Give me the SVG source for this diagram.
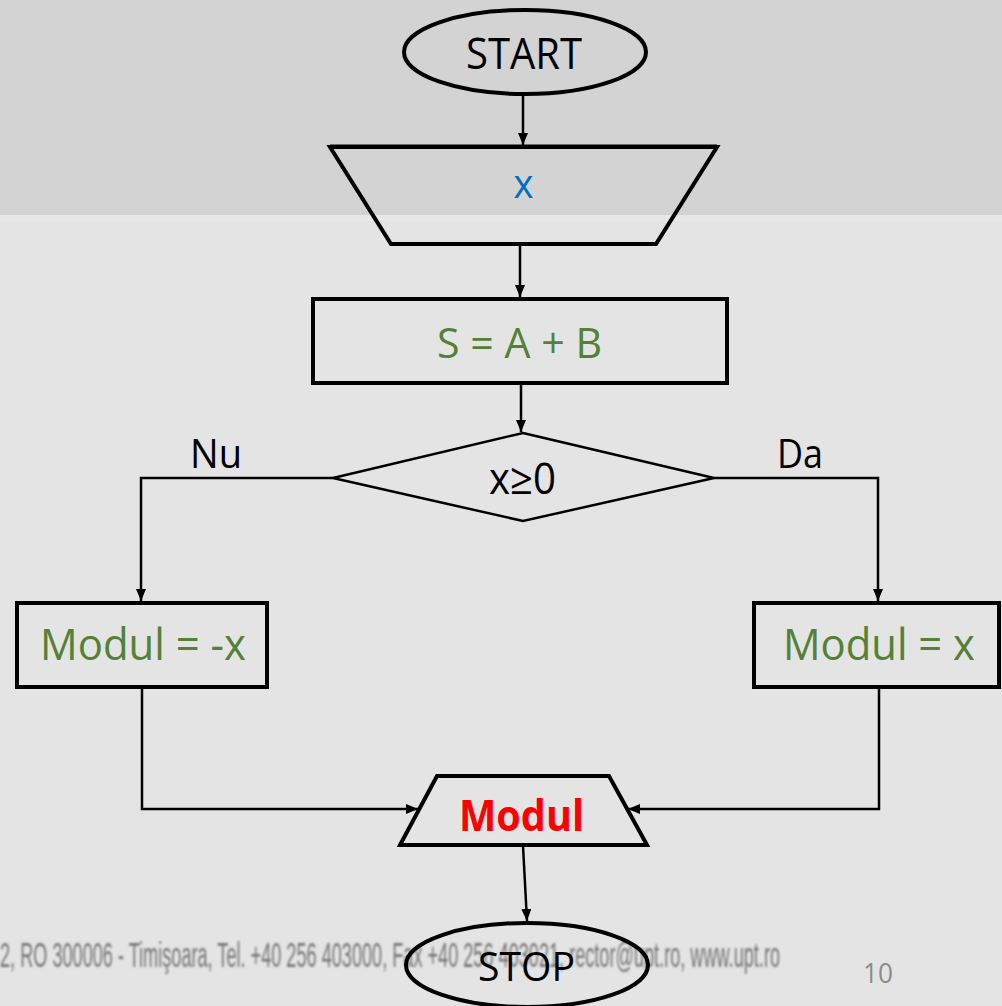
<svg xmlns="http://www.w3.org/2000/svg" width="1002" height="1006" viewBox="0 0 1002 1006">
  <style>
    .shape { fill: none; stroke: #000; stroke-width: 4; stroke-linejoin: miter; }
    .thin { stroke-width: 2.5; }
    .edge { fill: none; stroke: #000; stroke-width: 2.5; }
    .lbl { font-family: "Open Sans", "Noto Sans", sans-serif; text-anchor: middle; }
    .blk { fill: #000; }
    .grn { fill: #538135; }
    .blu { fill: #0070c0; }
    .red { fill: #ff0000; font-weight: bold; }
  </style>
  <defs>
    <marker id="arrow" viewBox="0 0 12 10" refX="12" refY="5" markerWidth="12" markerHeight="10" markerUnits="userSpaceOnUse" orient="auto">
      <path d="M0,0 L12,5 L0,10 Z" fill="#000"/>
    </marker>
    <filter id="soft" x="-5%" y="-50%" width="110%" height="200%">
      <feGaussianBlur stdDeviation="1.3 1.3"/>
    </filter>
  </defs>

  <!-- slide background -->
  <rect x="0" y="0" width="1002" height="215" fill="#d3d3d3"/>
  <rect x="0" y="215" width="1002" height="791" fill="#e4e4e4"/>
  <rect x="0" y="215" width="1002" height="6" fill="#e7e7e7"/>

  <!-- slide footer: condensed address line and page number -->
  <g filter="url(#soft)">
    <text transform="scale(0.5 1)" x="0" y="967" font-family="Liberation Sans, sans-serif" font-size="36" fill="#757575" textLength="1560" lengthAdjust="spacingAndGlyphs">2, RO 300006 - Timişoara, Tel. +40 256 403000, Fax +40 256 403021, rector@upt.ro, www.upt.ro</text>
  </g>
  <text x="878" y="983" class="lbl" font-size="28" fill="#8c8c8c" textLength="30" lengthAdjust="spacingAndGlyphs">10</text>

  <!-- connectors -->
  <g id="connectors">
    <line class="edge" x1="523" y1="96" x2="523" y2="145" marker-end="url(#arrow)"/>
    <line class="edge" x1="520" y1="245" x2="520" y2="297" marker-end="url(#arrow)"/>
    <line class="edge" x1="521" y1="384" x2="521" y2="432" marker-end="url(#arrow)"/>
    <polyline class="edge" points="333,478 141,478 141,601" marker-end="url(#arrow)"/>
    <polyline class="edge" points="714,478 878,478 878,601" marker-end="url(#arrow)"/>
    <polyline class="edge" points="142,688 142,809 418,809" marker-end="url(#arrow)"/>
    <polyline class="edge" points="879,688 879,809 628,809" marker-end="url(#arrow)"/>
    <line class="edge" x1="523" y1="846" x2="527" y2="921" marker-end="url(#arrow)"/>
    <text x="216" y="468" class="lbl blk" font-size="40" textLength="52" lengthAdjust="spacingAndGlyphs">Nu</text>
    <text x="800" y="468" class="lbl blk" font-size="40" textLength="46" lengthAdjust="spacingAndGlyphs">Da</text>
  </g>

  <g id="start">
    <ellipse class="shape" cx="525" cy="52" rx="121" ry="42"/>
    <text x="524" y="69" class="lbl blk" font-size="43" textLength="116" lengthAdjust="spacingAndGlyphs">START</text>
  </g>

  <g id="read-x">
    <polygon class="shape" points="330,147 717,147 656,244 391,244"/>
    <line x1="330" y1="146" x2="717" y2="146" stroke="#000" stroke-width="3"/>
    <text x="523.5" y="198" class="lbl blu" font-size="41" textLength="20" lengthAdjust="spacingAndGlyphs">x</text>
  </g>

  <g id="sum">
    <rect class="shape" x="313" y="299" width="414" height="84"/>
    <text x="519.5" y="358" class="lbl grn" font-size="42" textLength="165" lengthAdjust="spacingAndGlyphs">S = A + B</text>
  </g>

  <g id="test">
    <polygon class="shape thin" points="523,433 714,478 523,521 333,478"/>
    <text x="522.5" y="494" class="lbl blk" font-size="43" textLength="67" lengthAdjust="spacingAndGlyphs">x≥0</text>
  </g>

  <g id="neg">
    <rect class="shape" x="17" y="603" width="250" height="84"/>
    <text x="143" y="660" class="lbl grn" font-size="43" textLength="206" lengthAdjust="spacingAndGlyphs">Modul = -x</text>
  </g>

  <g id="pos">
    <rect class="shape" x="754" y="603" width="245" height="84"/>
    <text x="879" y="660" class="lbl grn" font-size="43" textLength="192" lengthAdjust="spacingAndGlyphs">Modul = x</text>
  </g>

  <g id="write-modul">
    <polygon class="shape" points="437,776 609,776 647,845 400,845"/>
    <text x="521.5" y="831" class="lbl red" font-size="43" textLength="125" lengthAdjust="spacingAndGlyphs">Modul</text>
  </g>

  <g id="stop">
    <ellipse class="shape" cx="527" cy="965" rx="121" ry="42"/>
    <text x="526.5" y="981" class="lbl blk" font-size="40" textLength="97" lengthAdjust="spacingAndGlyphs">STOP</text>
  </g>
</svg>
